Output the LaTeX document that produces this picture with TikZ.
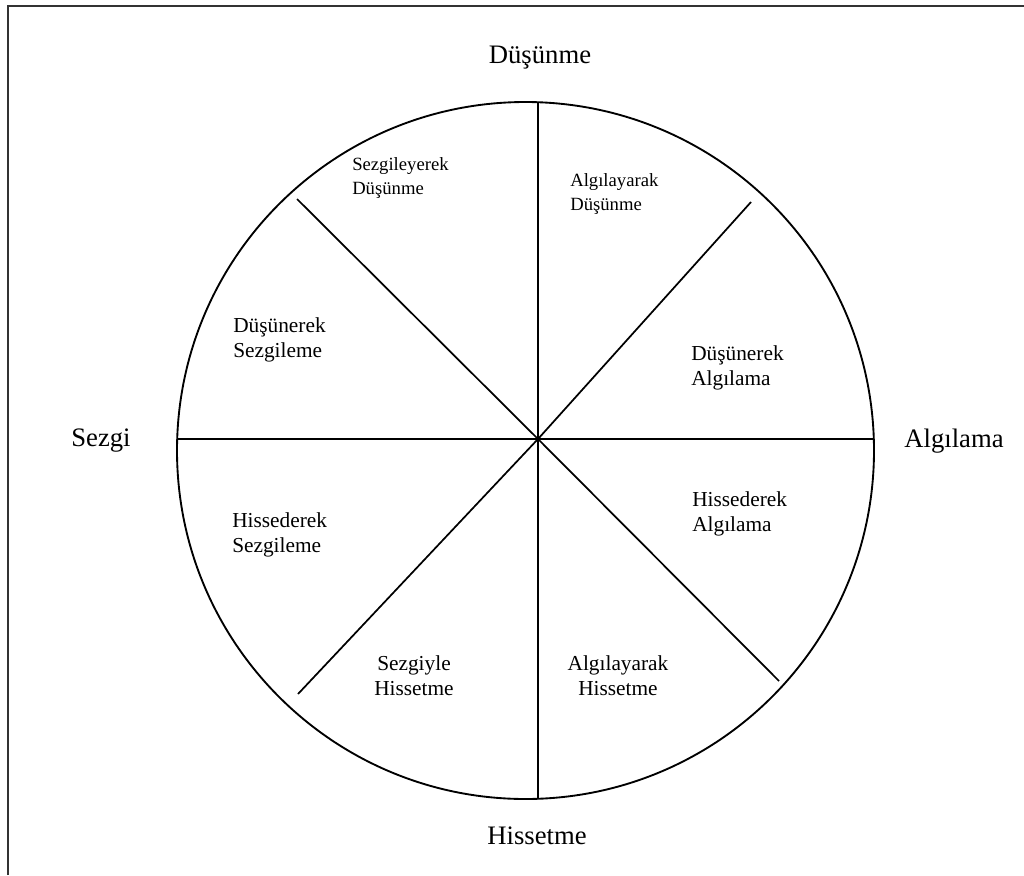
\documentclass[tikz,border=0pt]{standalone}
\usepackage{fontspec}
\setmainfont{Liberation Serif}
\begin{document}
\begin{tikzpicture}[x=0.75pt,y=-0.75pt,
  frameline/.style={draw=black!80,line width=1.5pt},
  wheel/.style={draw=black,line width=1.4pt},
  spoke/.style={draw=black,line width=1.3pt},
  pole/.style={inner sep=0pt,font=\fontsize{20}{24}\selectfont},
  sector/.style={inner sep=0pt,align=left,font=\fontsize{16}{18.5}\selectfont},
  sectortop/.style={inner sep=0pt,align=left,font=\fontsize{14}{18}\selectfont},
  sectorc/.style={inner sep=0pt,align=center,font=\fontsize{16}{18.5}\selectfont}]
\useasboundingbox (0,0) rectangle (1024,875);

% open frame: top and left edges only
\coordinate (fb) at (8,875);
\coordinate (fc) at (8,6);
\coordinate (fr) at (1024,6);
\draw[frameline] (fb) -- (fc) -- (fr);

% the wheel
\node[wheel,circle,minimum size=697*0.75pt,inner sep=0pt] (wh) at (525.5,450.5) {};

% hub and spoke ends
\coordinate (hub) at (538,439);
\coordinate (sN) at (538,102);
\coordinate (sS) at (538,799);
\coordinate (sW) at (177,439);
\coordinate (sE) at (874,439);
\coordinate (sNW) at (297,199);
\coordinate (sNE) at (751,202);
\coordinate (sSW) at (298,694);
\coordinate (sSE) at (779,681);
\foreach \e in {sN,sS,sW,sE,sNW,sNE,sSW,sSE}
  \draw[spoke] (hub) -- (\e);

% the four poles
\node[pole] (pN) at (540,58) {Düşünme};
\node[pole] (pW) at (101,441) {Sezgi};
\node[pole] (pE) at (954,441) {Algılama};
\node[pole] (pS) at (537,836) {Hissetme};

% the eight sectors
\node[sectortop,anchor=west] (t1) at (352,178) {Sezgileyerek\\Düşünme};
\node[sectortop,anchor=west] (t2) at (570,194) {Algılayarak\\Düşünme};
\node[sector,anchor=west] (t3) at (233,340) {Düşünerek\\Sezgileme};
\node[sector,anchor=west] (t4) at (691,368) {Düşünerek\\Algılama};
\node[sector,anchor=west] (t5) at (232,535) {Hissederek\\Sezgileme};
\node[sector,anchor=west] (t6) at (692,514) {Hissederek\\Algılama};
\node[sectorc] (t7) at (414,676) {Sezgiyle\\Hissetme};
\node[sectorc] (t8) at (618,676) {Algılayarak\\Hissetme};
\end{tikzpicture}
\end{document}
